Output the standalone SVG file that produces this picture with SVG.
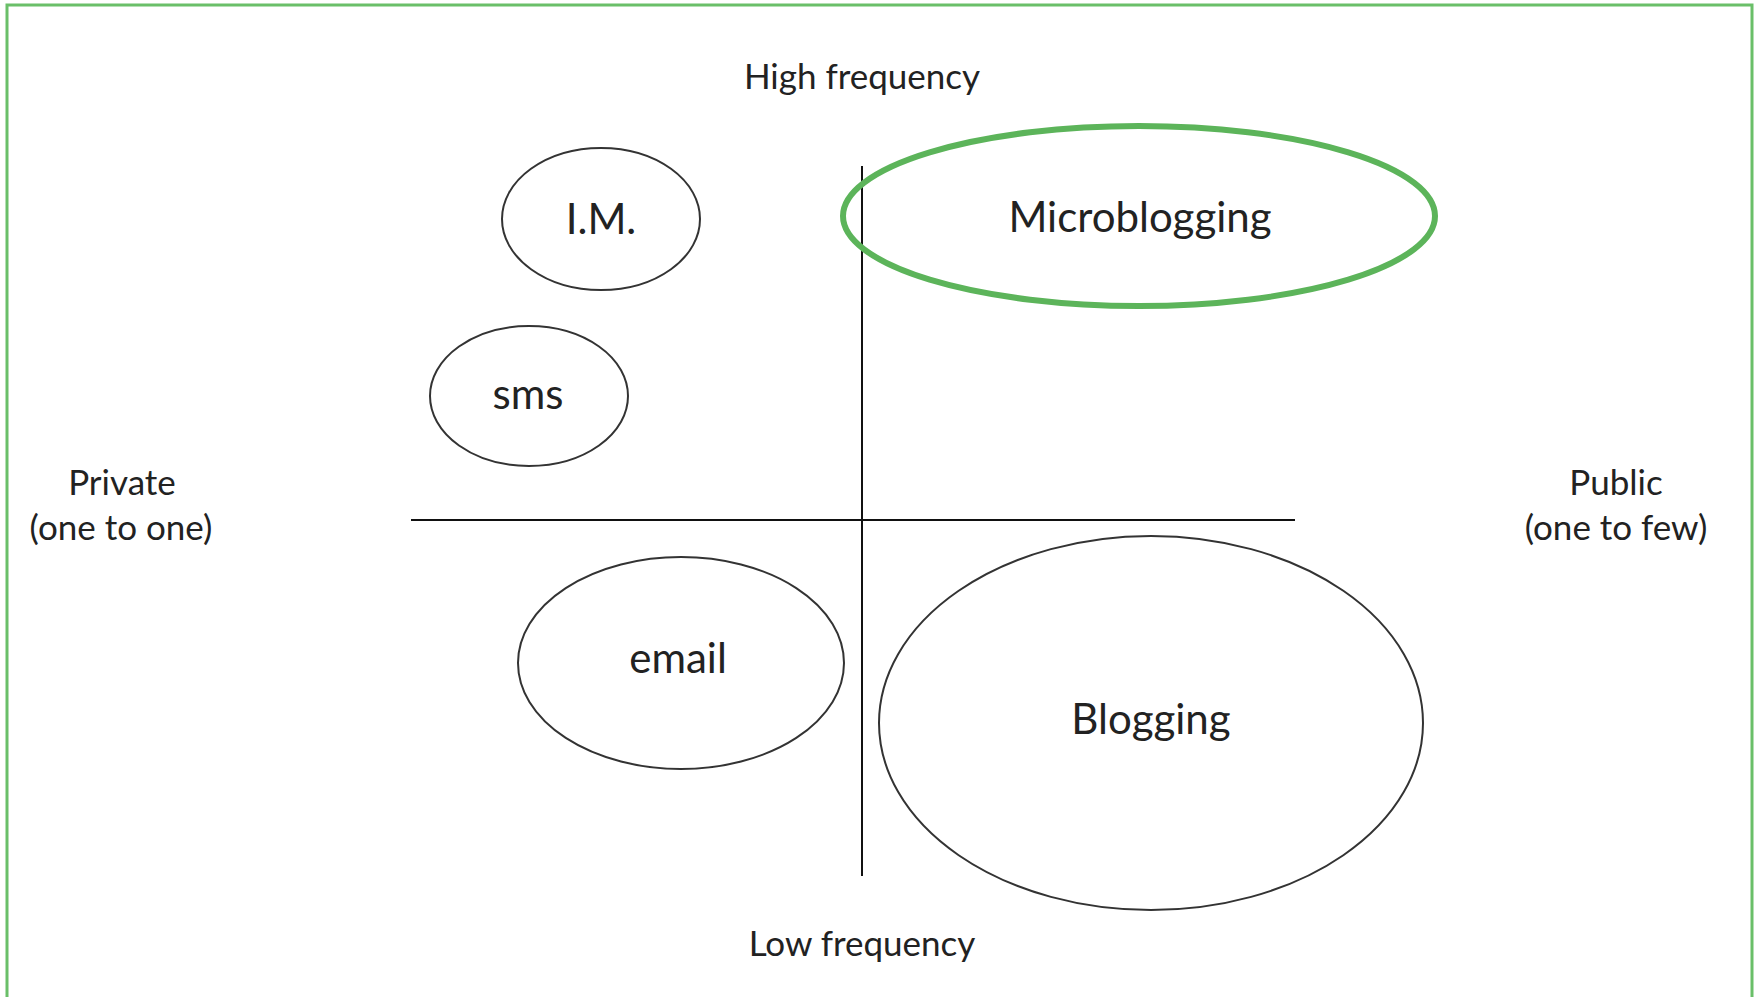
<svg xmlns="http://www.w3.org/2000/svg" width="1758" height="997" viewBox="0 0 1758 997">
<style>
.t{font-family:Lato,"Open Sans","Liberation Sans",sans-serif;fill:#222;text-anchor:middle}
.big{font-size:42px}
.lab{font-size:35px}
.e{fill:none;stroke:#333;stroke-width:2}
.ax{stroke:#111;stroke-width:2;fill:none}
</style>
<rect width="1758" height="997" fill="#fff"/>
<rect id="frame" x="7" y="5" width="1745" height="1010" fill="none" stroke="#6abf69" stroke-width="3"/>
<g id="connectors">
<line class="ax" x1="411" y1="520" x2="1295" y2="520"/>
<line class="ax" x1="862" y1="166" x2="862" y2="876"/>
</g>
<g id="im"><ellipse class="e" cx="601" cy="219" rx="99" ry="71"/><text class="t big" x="601" y="234">I.M.</text></g>
<g id="sms"><ellipse class="e" cx="529" cy="396" rx="99" ry="70"/><text class="t big" x="528" y="409">sms</text></g>
<g id="email"><ellipse class="e" cx="681" cy="663" rx="163" ry="106"/><text class="t big" x="678" y="673">email</text></g>
<g id="blogging"><ellipse class="e" cx="1151" cy="723" rx="272" ry="187"/><text class="t big" x="1151" y="734">Blogging</text></g>
<g id="microblogging"><ellipse cx="1139" cy="216" rx="296" ry="90" fill="none" stroke="#5cb45a" stroke-width="6"/><text class="t big" x="1140" y="232">Microblogging</text></g>
<g id="high"><text class="t lab" x="862" y="89">High frequency</text></g>
<g id="low"><text class="t lab" x="862" y="956">Low frequency</text></g>
<g id="private"><text class="t lab" x="122" y="495">Private</text><text class="t lab" x="121" y="540">(one to one)</text></g>
<g id="public"><text class="t lab" x="1616" y="495">Public</text><text class="t lab" x="1616" y="540">(one to few)</text></g>
</svg>
